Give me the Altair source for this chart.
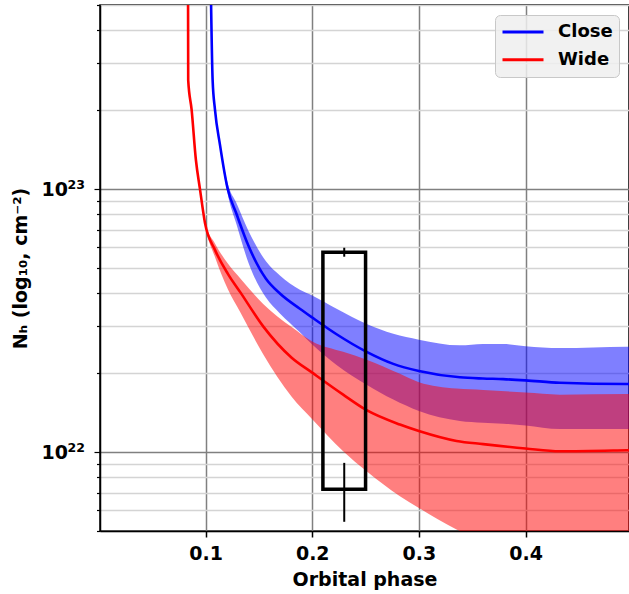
import altair as alt
import pandas as pd

# ---- data ----
close_phase = [0.1046, 0.1066, 0.1088, 0.1135, 0.1207, 0.1291, 0.14, 0.1566, 0.1697, 0.1884, 0.2,
               0.2228, 0.251, 0.276, 0.3, 0.3384, 0.36, 0.379, 0.4, 0.4322, 0.4947, 0.5]
close_mid = [7e23, 2.59e23, 2.0e23, 1.47e23, 1.0e23, 8.0e22, 6.1e22, 4.55e22, 4.0e22, 3.5e22, 3.24e22,
             2.8e22, 2.4e22, 2.16e22, 2.03e22, 1.92e22, 1.90e22, 1.89e22, 1.87e22, 1.83e22, 1.81e22, 1.81e22]
close_hi = [7e23, 2.62e23, 2.03e23, 1.5e23, 1.05e23, 8.8e22, 6.95e22, 5.3e22, 4.68e22, 4.13e22, 3.93e22,
            3.5e22, 3.06e22, 2.81e22, 2.67e22, 2.54e22, 2.57e22, 2.57e22, 2.52e22, 2.48e22, 2.51e22, 2.51e22]
close_lo = [7e23, 2.56e23, 1.97e23, 1.43e23, 0.955e23, 7.3e22, 5.26e22, 3.86e22, 3.36e22, 2.85e22, 2.56e22,
            2.14e22, 1.80e22, 1.58e22, 1.43e22, 1.31e22, 1.29e22, 1.28e22, 1.26e22, 1.22e22, 1.22e22, 1.22e22]

wide_phase = [0.0835, 0.0837, 0.0869, 0.0909, 0.0947, 0.0994, 0.1088, 0.1209, 0.1328, 0.154, 0.1807,
              0.2, 0.229, 0.251, 0.2822, 0.3, 0.3353, 0.3603, 0.4, 0.4322, 0.4947, 0.5]
wide_mid = [7e23, 2.59e23, 2.0e23, 1.29e23, 1.0e23, 7.43e22, 5.86e22, 4.75e22, 4.03e22, 3.0e22, 2.28e22,
            2.0e22, 1.65e22, 1.44e22, 1.27e22, 1.20e22, 1.10e22, 1.07e22, 1.03e22, 1.005e22, 1.014e22, 1.015e22]
wide_hi = [7e23, 2.59e23, 2.0e23, 1.29e23, 1.0e23, 7.5e22, 6.2e22, 5.2e22, 4.55e22, 3.65e22, 2.98e22,
           2.63e22, 2.40e22, 2.24e22, 1.98e22, 1.84e22, 1.74e22, 1.72e22, 1.68e22, 1.65e22, 1.66e22, 1.66e22]
wide_lo = [7e23, 2.59e23, 2.0e23, 1.29e23, 1.0e23, 7.35e22, 5.5e22, 4.15e22, 3.38e22, 2.35e22, 1.62e22,
           1.33e22, 1.005e22, 8.43e21, 6.78e21, 6.12e21, 5.07e21, 4.6e21, 4.1e21, 3.9e21, 3.7e21, 3.7e21]

box_phase = [0.21, 0.25]
box_nh = [7.2e21, 5.74e22]
err_phase = [0.23, 0.23]
err_lo = [5.52e22, 5.42e21]
err_hi = [5.97e22, 9.08e21]

x_ticks = [0.1, 0.2, 0.3, 0.4]
y_ticks = [5e21, 6e21, 7e21, 8e21, 9e21, 1e22, 2e22, 3e22, 4e22, 5e22, 6e22, 7e22, 8e22, 9e22,
           1e23, 2e23, 3e23, 4e23, 5e23]
y_label_vals = [1e22, 1e23]
y_label_base = ["10", "10"]
y_label_exp = ["22", "23"]

# ---- tables ----
curves = pd.concat([
    pd.DataFrame({"phase": close_phase, "mid": close_mid, "lo": close_lo, "hi": close_hi, "series": "Close"}),
    pd.DataFrame({"phase": wide_phase, "mid": wide_mid, "lo": wide_lo, "hi": wide_hi, "series": "Wide"}),
], ignore_index=True)
box_df = pd.DataFrame({"x": [box_phase[0]], "x2": [box_phase[1]], "y": [box_nh[0]], "y2": [box_nh[1]]})
err_df = pd.DataFrame({"x": err_phase, "y": err_lo, "y2": err_hi})
lab_df = pd.DataFrame({"v": y_label_vals, "base": y_label_base, "exp": y_label_exp})

FONT = "DejaVu Sans"
is_major = "abs(log(datum.value)/LN10 - round(log(datum.value)/LN10)) < 0.001"

xscale = alt.Scale(domain=[0.001, 0.497], nice=False, zero=False)
yscale = alt.Scale(type="log", domain=[5e21, 5e23], nice=False)

xaxis = alt.Axis(values=x_ticks, format=".1f", title="Orbital phase",
                 grid=True, gridColor="#808080", gridWidth=1.5,
                 tickSize=6, tickWidth=1.5, tickColor="black",
                 labelFont=FONT, labelFontSize=19, labelFontWeight="bold", labelColor="black",
                 labelPadding=7, labelFlush=False,
                 titleFont=FONT, titleFontSize=19, titleFontWeight="bold", titleColor="black",
                 titleY=54, titleBaseline="alphabetic",
                 domainColor="black", domainWidth=1.5)

yaxis = alt.Axis(values=y_ticks, labels=False,
                 title="Nₕ (log₁₀, cm⁻²)",
                 grid=True,
                 gridColor={"condition": {"test": is_major, "value": "#808080"}, "value": "#d4d4d4"},
                 gridWidth=1.5,
                 tickSize={"condition": {"test": is_major, "value": 6}, "value": 3.5},
                 tickWidth=1.2, tickColor="black",
                 titleFont=FONT, titleFontSize=19, titleFontWeight="bold", titleColor="black",
                 titleX=-80, titleY=263, titleAngle=270, titleAlign="center", titleBaseline="middle",
                 domainColor="black", domainWidth=1.5)

base = alt.Chart(curves)

band_close = base.transform_filter("datum.series == 'Close'").mark_area(
    color="blue", opacity=0.5, clip=True, interpolate="monotone").encode(
    x=alt.X("phase:Q", scale=xscale, axis=xaxis),
    y=alt.Y("lo:Q", scale=yscale, axis=yaxis),
    y2="hi:Q")

band_wide = base.transform_filter("datum.series == 'Wide'").mark_area(
    color="red", opacity=0.5, clip=True, interpolate="monotone").encode(
    x=alt.X("phase:Q", scale=xscale),
    y=alt.Y("lo:Q", scale=yscale),
    y2="hi:Q")

lines = base.mark_line(strokeWidth=2.6, clip=True, interpolate="monotone").encode(
    x=alt.X("phase:Q", scale=xscale),
    y=alt.Y("mid:Q", scale=yscale),
    color=alt.Color("series:N", scale=alt.Scale(domain=["Close", "Wide"], range=["blue", "red"]),
                    legend=alt.Legend(title=None, orient="none", legendX=395, legendY=10,
                                      symbolType="stroke", symbolSize=1681, symbolStrokeWidth=3,
                                      clipHeight=22, rowPadding=5.7,
                                      labelFont=FONT, labelFontSize=18, labelFontWeight="bold",
                                      labelColor="black", labelOffset=13,
                                      fillColor="rgba(238,238,238,0.85)", strokeColor="#c8c8c8",
                                      cornerRadius=5, padding=6)))

box = alt.Chart(box_df).mark_rect(fillOpacity=0, stroke="black", strokeWidth=3.5, clip=True).encode(
    x=alt.X("x:Q", scale=xscale), x2="x2:Q",
    y=alt.Y("y:Q", scale=yscale), y2="y2:Q")

err = alt.Chart(err_df).mark_rule(color="black", strokeWidth=2, clip=True).encode(
    x=alt.X("x:Q", scale=xscale),
    y=alt.Y("y:Q", scale=yscale), y2="y2:Q")

lab_base = alt.Chart(lab_df).mark_text(font=FONT, fontSize=19, fontWeight="bold", color="black",
                                       align="right", baseline="alphabetic", dy=7).encode(
    x=alt.value(-32), y=alt.Y("v:Q", scale=yscale), text="base:N")
lab_exp = alt.Chart(lab_df).mark_text(font=FONT, fontSize=12.5, fontWeight="bold", color="black",
                                      align="right", baseline="alphabetic", dy=0).encode(
    x=alt.value(-15), y=alt.Y("v:Q", scale=yscale), text="exp:N")

chart = alt.layer(band_close, band_wide, lines, box, err, lab_base, lab_exp).properties(
    width=529, height=526,
    autosize=alt.AutoSizeParams(type="none"),
    padding={"left": 100, "top": 5, "right": 0, "bottom": 63},
    background="white",
).configure_view(stroke="black", strokeWidth=1.5)

chart.save("out.html", embed_options={"renderer": "svg", "actions": False})
